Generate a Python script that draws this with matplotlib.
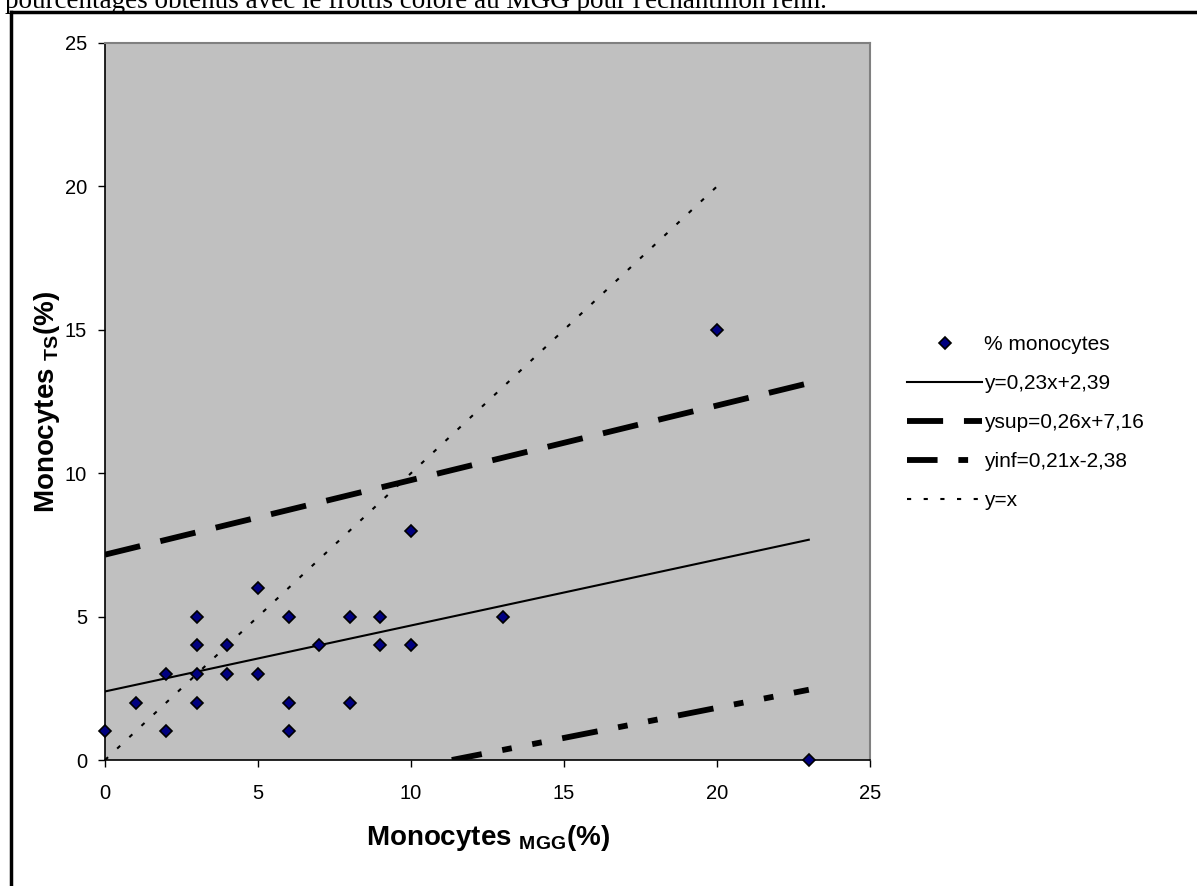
import matplotlib
matplotlib.use("Agg")
import matplotlib.pyplot as plt
from matplotlib.lines import Line2D
import numpy as np

plt.rcParams['font.family'] = ['Liberation Sans', 'DejaVu Sans']
plt.rcParams['mathtext.fontset'] = 'custom'
plt.rcParams['mathtext.rm'] = 'Liberation Sans'
plt.rcParams['mathtext.bf'] = 'Liberation Sans:bold'
plt.rcParams['lines.scale_dashes'] = False

# Data
mgg = [0, 1, 2, 2, 3, 3, 3, 3, 4, 4, 5, 5, 6, 6, 6, 7, 8, 8, 9, 9, 10, 10, 13, 20, 23]
ts = [1, 2, 3, 1, 5, 4, 3, 2, 4, 3, 6, 3, 5, 2, 1, 4, 5, 2, 5, 4, 8, 4, 5, 15, 0]

reg_slope, reg_icpt = 0.23, 2.39
sup_slope, sup_icpt = 0.26, 7.16
inf_slope, inf_icpt = 0.21, -2.38
x_max = 23
ident_max = 20

lbl_pts = "% monocytes"
lbl_reg = "y=0,23x+2,39"
lbl_sup = "ysup=0,26x+7,16"
lbl_inf = "yinf=0,21x-2,38"
lbl_id = "y=x"

W, H = 1197, 886
fig = plt.figure(figsize=(W / 100, H / 100), dpi=100)
fig.patch.set_facecolor('white')

L, R, T, B = 105, 870, 43, 760
ax = fig.add_axes([L / W, 1 - B / H, (R - L) / W, (B - T) / H])
ax.set_facecolor('#C0C0C0')

xs = np.array([0, x_max])
x_inf0 = -inf_icpt / inf_slope
xinf = np.array([x_inf0, x_max])

ln_reg, = ax.plot(xs, reg_slope * xs + reg_icpt, color='black', lw=1.5, label=lbl_reg)
ln_sup, = ax.plot(xs, sup_slope * xs + sup_icpt, color='black', lw=4.2,
                  linestyle=(0, (26, 15)), dash_capstyle='butt', label=lbl_sup)
ln_inf, = ax.plot(xinf, inf_slope * xinf + inf_icpt, color='black', lw=4.2,
                  linestyle=(4, (26, 15, 7, 15, 7, 15)), dash_capstyle='butt', label=lbl_inf)
xi = np.array([0, ident_max])
ln_id, = ax.plot(xi, xi, color='black', lw=1.5, linestyle=(0, (3, 9)), dash_capstyle='butt', label=lbl_id)
pts, = ax.plot(mgg, ts, linestyle='none', marker='D', markersize=6.5, markerfacecolor='#000080',
               markeredgecolor='black', markeredgewidth=1.2, clip_on=False, zorder=5, label=lbl_pts)

ax.set_xlim(0, 25)
ax.set_ylim(0, 25)
ax.set_xticks(range(0, 26, 5))
ax.set_yticks(range(0, 26, 5))
ax.tick_params(direction='out', length=5, width=1, labelsize=14.5, colors='black')
ax.tick_params(axis='x', pad=12)
ax.tick_params(axis='y', pad=8)
for s in ['top', 'right']:
    ax.spines[s].set_color('#808080')
    ax.spines[s].set_linewidth(1.5)
for s in ['left', 'bottom']:
    ax.spines[s].set_color('black')
    ax.spines[s].set_linewidth(1.2)

ax.set_xlabel(r"Monocytes $_{\mathbf{MGG}}$(%)", fontsize=20, fontweight='bold', labelpad=15)
ax.set_ylabel(r"Monocytes $_{\mathbf{TS}}$(%)", fontsize=20, fontweight='bold', labelpad=2)

fig.legend([pts, ln_reg, ln_sup, ln_inf, ln_id], [lbl_pts, lbl_reg, lbl_sup, lbl_inf, lbl_id],
           loc='upper left', bbox_to_anchor=(907 / W, 1 - 335 / H), frameon=False, fontsize=15,
           handlelength=3.6, handletextpad=0.1, labelspacing=0.96, borderaxespad=0, borderpad=0)

# page frame
fig.add_artist(Line2D([11 / W, 1.0], [1 - 12 / H, 1 - 12 / H], transform=fig.transFigure, color='black', lw=2.5))
fig.add_artist(Line2D([11 / W, 11 / W], [0, 1 - 12 / H], transform=fig.transFigure, color='black', lw=2.5))

fig.text(5 / W, 1 - 8 / H, "pourcentages obtenus avec le frottis coloré au MGG pour l'échantillon renn.",
         family='Liberation Serif', fontsize=19.5, ha='left', va='baseline')

fig.savefig("out.png", dpi=100)
